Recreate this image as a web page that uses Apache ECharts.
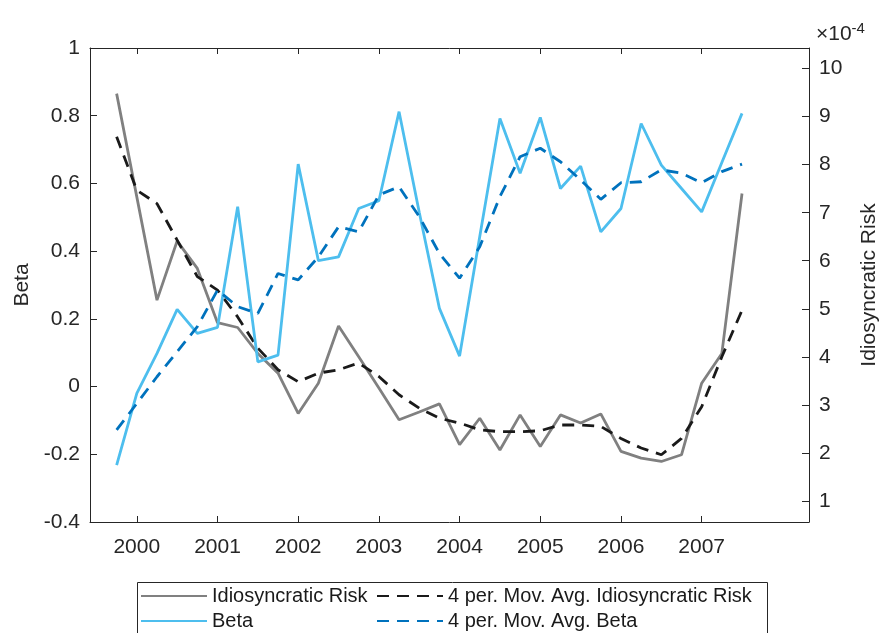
<!DOCTYPE html>
<html>
<head>
<meta charset="utf-8">
<script src="https://cdn.jsdelivr.net/npm/echarts@6/dist/echarts.min.js"></script>
<style>
  html, body { margin: 0; padding: 0; background: #fff; }
  #chart { width: 881px; height: 633px; }
</style>
</head>
<body>
<div id="chart"></div>
<script>
// quarterly dates (decimal years)
const quarters = [1999.75, 2000.0, 2000.25, 2000.5, 2000.75, 2001.0, 2001.25, 2001.5,
  2001.75, 2002.0, 2002.25, 2002.5, 2002.75, 2003.0, 2003.25, 2003.5,
  2003.75, 2004.0, 2004.25, 2004.5, 2004.75, 2005.0, 2005.25, 2005.5,
  2005.75, 2006.0, 2006.25, 2006.5, 2006.75, 2007.0, 2007.25, 2007.5]

// idiosyncratic risk, x1e-4 (right axis)
const idioRisk = [9.48, 7.33, 5.18, 6.41, 5.84, 4.71, 4.61, 4.07,
  3.66, 2.82, 3.45, 4.64, 4.00, 3.35, 2.69, 2.85,
  3.02, 2.17, 2.72, 2.06, 2.79, 2.13, 2.79, 2.62,
  2.81, 2.03, 1.89, 1.82, 1.96, 3.45, 4.07, 7.40]
const idioRiskMA = [8.58, 7.47, 7.19, 6.43, 5.67, 5.39, 4.83, 4.18,
  3.73, 3.48, 3.66, 3.73, 3.87, 3.59, 3.21, 2.93,
  2.72, 2.62, 2.48, 2.44, 2.44, 2.46, 2.58, 2.58,
  2.55, 2.30, 2.10, 1.96, 2.30, 2.96, 4.00, 4.97]

// beta (left axis)
const beta = [-0.232, -0.020, 0.098, 0.228, 0.157, 0.175, 0.531, 0.073,
  0.093, 0.657, 0.372, 0.383, 0.526, 0.549, 0.812, 0.515,
  0.231, 0.090, 0.443, 0.792, 0.630, 0.795, 0.585, 0.651,
  0.457, 0.526, 0.777, 0.654, 0.585, 0.516, 0.662, 0.807]
const betaMA = [-0.128, -0.050, 0.029, 0.103, 0.177, 0.285, 0.236, 0.216,
  0.334, 0.315, 0.383, 0.472, 0.457, 0.566, 0.590, 0.502,
  0.393, 0.320, 0.413, 0.561, 0.679, 0.704, 0.664, 0.610,
  0.553, 0.602, 0.605, 0.640, 0.630, 0.602, 0.635, 0.657]

const yearTicks = [2000, 2001, 2002, 2003, 2004, 2005, 2006, 2007]
const riskTicks = [1, 2, 3, 4, 5, 6, 7, 8, 9, 10]

const axisColor = '#262626'
const font = 'Liberation Sans, Arial, sans-serif'

const pair = (vals) => quarters.map((q, i) => [q, vals[i]])

let myChart = echarts.init(document.getElementById('chart'))

const legendBase = {
  orient: 'vertical',
  top: 586,
  height: 60,
  padding: 0,
  itemWidth: 66,
  itemHeight: 14,
  itemGap: 5,
  itemStyle: { opacity: 0 },
  textStyle: { fontSize: 20, color: '#1a1a1a', fontFamily: font },
  z: 5
}

let option = {
  animation: false,
  textStyle: { fontFamily: font },
  title: {
    text: '×10{sup|-4}',
    left: 811,
    top: 16,
    textStyle: {
      fontFamily: font,
      fontSize: 21,
      fontWeight: 'normal',
      color: axisColor,
      rich: {
        sup: { fontFamily: font, fontSize: 15, color: axisColor, verticalAlign: 'top', padding: [0, 0, 12, 0] }
      }
    }
  },
  grid: { left: 90, right: 72, top: 48, bottom: 111, containLabel: false, outerBoundsMode: 'none' },
  graphic: [{
    type: 'rect',
    shape: { x: 137.5, y: 582.5, width: 630, height: 60 },
    style: { fill: '#fff', stroke: axisColor, lineWidth: 1 },
    z: 0
  }],
  legend: [
    Object.assign({}, legendBase, { data: ['Idiosyncratic Risk', 'Beta'], left: 140 }),
    Object.assign({}, legendBase, { data: ['4 per. Mov. Avg. Idiosyncratic Risk', '4 per. Mov. Avg. Beta'], left: 376 })
  ],
  xAxis: [
    {
      type: 'value',
      position: 'bottom',
      min: 1999.42,
      max: 2008.33,
      axisLine: { show: true, onZero: false, lineStyle: { color: axisColor, width: 1 } },
      axisTick: { show: true, inside: true, length: 6, customValues: yearTicks, lineStyle: { color: axisColor } },
      axisLabel: { customValues: yearTicks, margin: 15, fontSize: 21, color: axisColor, fontFamily: font, formatter: (v) => String(Math.round(v)) },
      splitLine: { show: false }
    },
    {
      type: 'value',
      position: 'top',
      min: 1999.42,
      max: 2008.33,
      axisLine: { show: true, onZero: false, lineStyle: { color: axisColor, width: 1 } },
      axisTick: { show: true, inside: true, length: 6, customValues: yearTicks, lineStyle: { color: axisColor } },
      axisLabel: { show: false },
      splitLine: { show: false }
    }
  ],
  yAxis: [
    {
      type: 'value',
      position: 'left',
      min: -0.4,
      max: 1,
      interval: 0.2,
      name: 'Beta',
      nameLocation: 'middle',
      nameGap: 57,
      nameTextStyle: { fontSize: 21, color: axisColor, fontFamily: font },
      axisLine: { show: true, onZero: false, lineStyle: { color: axisColor, width: 1 } },
      axisTick: { show: true, inside: true, length: 7, lineStyle: { color: axisColor } },
      axisLabel: { margin: 10, fontSize: 21, color: axisColor, fontFamily: font, formatter: (v) => String(parseFloat(v.toFixed(1))) },
      splitLine: { show: false }
    },
    {
      type: 'value',
      position: 'right',
      min: 0.56,
      max: 10.43,
      name: 'Idiosyncratic Risk',
      nameLocation: 'middle',
      nameGap: 50,
      nameRotate: 90,
      nameTextStyle: { fontSize: 21, color: axisColor, fontFamily: font },
      axisLine: { show: true, onZero: false, lineStyle: { color: axisColor, width: 1 } },
      axisTick: { show: true, inside: true, length: 7, customValues: riskTicks, lineStyle: { color: axisColor } },
      axisLabel: { customValues: riskTicks, margin: 10, fontSize: 21, color: axisColor, fontFamily: font },
      splitLine: { show: false }
    }
  ],
  series: [
    {
      name: 'Idiosyncratic Risk',
      type: 'line',
      yAxisIndex: 1,
      symbol: 'none',
      data: pair(idioRisk),
      lineStyle: { color: '#808080', width: 2.8 },
      itemStyle: { color: '#808080' }
    },
    {
      name: '4 per. Mov. Avg. Idiosyncratic Risk',
      type: 'line',
      yAxisIndex: 1,
      symbol: 'none',
      data: pair(idioRiskMA),
      lineStyle: { color: '#1a1a1a', width: 2.8, type: [12, 8] },
      itemStyle: { color: '#1a1a1a' }
    },
    {
      name: 'Beta',
      type: 'line',
      yAxisIndex: 0,
      symbol: 'none',
      data: pair(beta),
      lineStyle: { color: '#4DBEEE', width: 2.8 },
      itemStyle: { color: '#4DBEEE' }
    },
    {
      name: '4 per. Mov. Avg. Beta',
      type: 'line',
      yAxisIndex: 0,
      symbol: 'none',
      data: pair(betaMA),
      lineStyle: { color: '#0072BD', width: 2.8, type: [12, 8] },
      itemStyle: { color: '#0072BD' }
    }
  ]
}

myChart.setOption(option)
</script>
</body>
</html>
